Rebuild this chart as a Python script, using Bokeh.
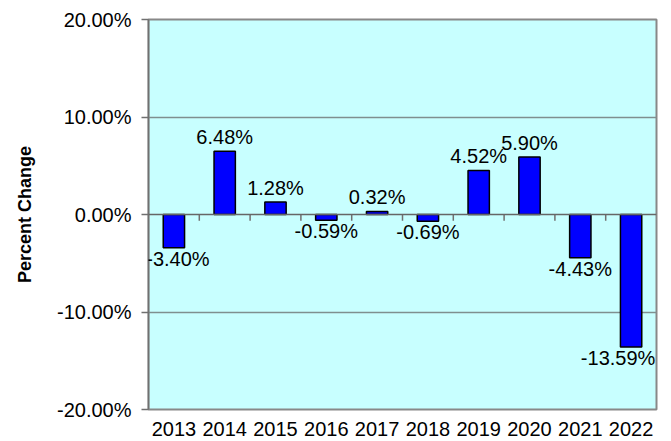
from bokeh.plotting import figure
from bokeh.models import ColumnDataSource, FixedTicker, NumeralTickFormatter, Span, Label
from bokeh.transform import dodge
from bokeh.embed import file_html
from bokeh.resources import INLINE

years = ["2013", "2014", "2015", "2016", "2017", "2018", "2019", "2020", "2021", "2022"]
changes = [-3.40, 6.48, 1.28, -0.59, 0.32, -0.69, 4.52, 5.90, -4.43, -13.59]
y_ticks = [-0.2, -0.1, 0.0, 0.1, 0.2]

frac = [c / 100.0 for c in changes]
labels = ["%.2f%%" % c for c in changes]

FONT = "Liberation Sans"

p = figure(x_range=years, y_range=(-0.2, 0.2), width=671, height=441,
           output_backend="svg", toolbar_location=None,
           min_border_left=148, min_border_right=15, min_border_top=19, min_border_bottom=32)
p.background_fill_color = "#C8FFFF"
p.border_fill_color = "white"
p.outline_line_color = "#888888"
p.outline_line_width = 2

p.xgrid.grid_line_color = None
p.ygrid.ticker = FixedTicker(ticks=[-0.1, 0.1])
p.ygrid.grid_line_color = "#7f8f8f"
p.ygrid.grid_line_width = 1.5

p.add_layout(Span(location=0, dimension="width", line_color="#666666", line_width=1.5))

# category separator ticks on zero line
src_t = ColumnDataSource(dict(x=years[1:], y0=[0.0] * (len(years) - 1), y1=[-0.0065] * (len(years) - 1)))
p.segment(x0=dodge("x", -0.5, range=p.x_range), x1=dodge("x", -0.5, range=p.x_range),
          y0="y0", y1="y1", source=src_t, line_color="#707070", line_width=1.5)

src = ColumnDataSource(dict(x=years, top=frac, lab=labels))
p.vbar(x="x", top="top", bottom=0, width=0.42, source=src,
       fill_color="#0000FF", line_color="black", line_width=1.5)

# categorical range: factor i sits at synthetic coordinate i + 0.5
for i, (yr, f, lab) in enumerate(zip(years, frac, labels)):
    xc = i + 0.5
    if f >= 0:
        p.add_layout(Label(x=xc, y=f, text=lab, text_align="center", text_baseline="bottom",
                           y_offset=3, text_font=FONT, text_font_size="20px", text_color="black"))
    else:
        dx = 4 if i == 0 else (-13 if i == len(years) - 1 else 0)
        p.add_layout(Label(x=xc, y=f, text=lab, text_align="center", text_baseline="top",
                           y_offset=0, x_offset=dx, text_font=FONT, text_font_size="20px",
                           text_color="black"))

p.yaxis.ticker = FixedTicker(ticks=y_ticks)
p.yaxis.formatter = NumeralTickFormatter(format="0.00%")
p.yaxis.axis_line_color = "#707070"
p.yaxis.axis_line_width = 1.5
p.yaxis.major_tick_line_color = "#707070"
p.yaxis.major_tick_line_width = 1.5
p.yaxis.major_tick_out = 7
p.yaxis.major_tick_in = 0
p.yaxis.minor_tick_line_color = None
p.yaxis.major_label_standoff = 10
p.yaxis.major_label_text_font = FONT
p.yaxis.major_label_text_font_size = "20px"
p.yaxis.major_label_text_color = "black"
p.yaxis.axis_label = "Percent Change"
p.yaxis.axis_label_text_font = FONT
p.yaxis.axis_label_text_font_style = "bold"
p.yaxis.axis_label_text_font_size = "18px"
p.yaxis.axis_label_text_color = "black"
p.yaxis.axis_label_standoff = 19

p.xaxis.axis_line_color = None
p.xaxis.major_tick_line_color = None
p.xaxis.minor_tick_line_color = None
p.xaxis.major_tick_out = 0
p.xaxis.major_label_standoff = 12
p.xaxis.major_label_text_font = FONT
p.xaxis.major_label_text_font_size = "20px"
p.xaxis.major_label_text_color = "black"

open("out.html", "w").write(file_html(p, INLINE))
